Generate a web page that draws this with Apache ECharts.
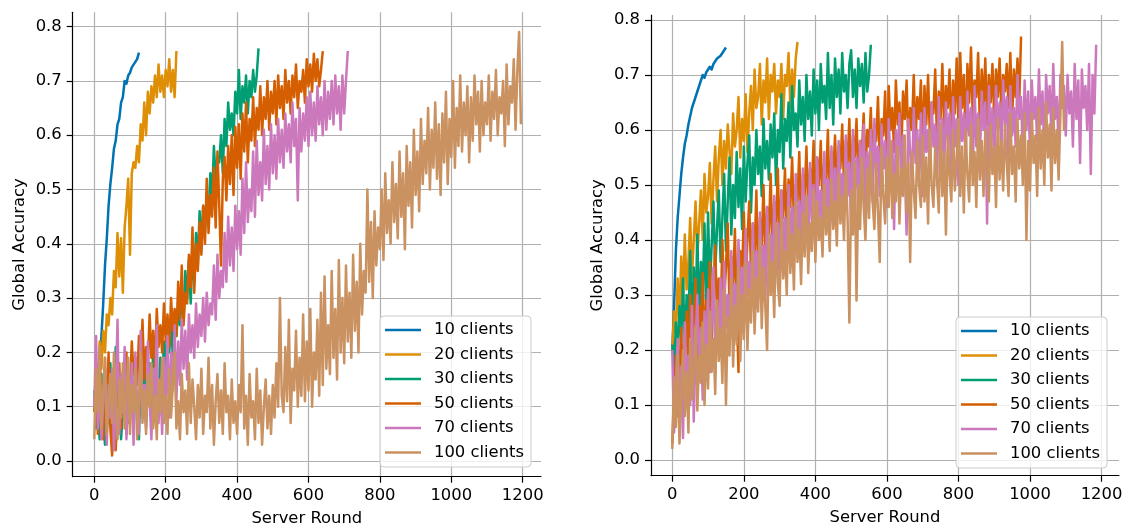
<!DOCTYPE html>
<html>
<head>
<meta charset="utf-8">
<script src="https://cdn.jsdelivr.net/npm/echarts@6/dist/echarts.min.js"></script>
<style>
  html, body { margin: 0; padding: 0; background: #fff; }
  #chart { width: 1123px; height: 524px; }
</style>
</head>
<body>
<div id="chart"></div>
<script>
// rounds between two stored readings
const STEP = 5;

const clientNames = ['10 clients', '20 clients', '30 clients', '50 clients', '70 clients', '100 clients'];
const palette = ['#0173b2', '#de8f05', '#029e73', '#d55e00', '#cc78bc', '#ca9161'];

const roundTickMax = 1200;
const roundTickStep = 200;
const accTickMax = 0.8;
const accTickStep = 0.1;

// ---- left panel (accuracy readings, one every STEP rounds) ----
const left10 = [0.10,0.12,0.15,0.17,0.23,0.29,0.36,0.41,0.47,0.51,0.54,0.575,0.59,0.62,0.63,0.66,0.67,0.70,0.695,0.71,0.715,0.725,0.73,0.728,0.74,0.752];
const left20 = [0.09,0.18,0.13,0.22,0.17,0.24,0.20,0.27,0.25,0.30,0.27,0.35,0.32,0.42,0.34,0.41,0.31,0.43,0.47,0.52,
  0.38,0.53,0.55,0.54,0.58,0.55,0.62,0.59,0.66,0.60,0.68,0.64,0.69,0.66,0.71,0.67,0.73,0.68,0.71,0.67,
  0.72,0.69,0.74,0.68,0.72,0.67,0.755];
const left30 = [0.13,0.06,0.11,0.04,0.16,0.08,0.03,0.12,0.07,0.18,0.05,0.10,0.21,0.06,0.13,0.04,0.09,0.17,0.05,0.12,
  0.08,0.19,0.06,0.14,0.10,0.04,0.16,0.09,0.20,0.07,0.13,0.18,0.10,0.21,0.12,0.17,0.09,0.19,0.14,0.22,
  0.17,0.24,0.20,0.26,0.19,0.27,0.23,0.28,0.25,0.31,0.26,0.35,0.30,0.37,0.29,0.38,0.33,0.42,0.36,0.46,
  0.39,0.47,0.42,0.49,0.44,0.53,0.48,0.58,0.52,0.56,0.55,0.60,0.53,0.63,0.58,0.66,0.61,0.64,0.60,0.68,
  0.64,0.72,0.63,0.69,0.66,0.71,0.64,0.70,0.67,0.72,0.68,0.71,0.76];
const left50 = [0.09,0.15,0.05,0.19,0.11,0.04,0.17,0.08,0.20,0.06,0.01,0.13,0.02,0.10,0.18,0.06,0.15,0.09,0.20,0.07,
  0.13,0.22,0.16,0.19,0.14,0.23,0.17,0.26,0.15,0.21,0.18,0.27,0.19,0.24,0.17,0.28,0.21,0.25,0.20,0.29,
  0.22,0.27,0.21,0.30,0.24,0.28,0.23,0.33,0.26,0.36,0.25,0.31,0.29,0.38,0.32,0.43,0.31,0.40,0.35,0.44,
  0.38,0.47,0.40,0.52,0.42,0.49,0.45,0.54,0.43,0.57,0.47,0.36,0.52,0.56,0.48,0.58,0.51,0.60,0.49,0.615,
  0.54,0.62,0.52,0.64,0.57,0.66,0.55,0.63,0.59,0.67,0.58,0.65,0.61,0.69,0.60,0.67,0.63,0.70,0.61,0.68,
  0.64,0.70,0.62,0.71,0.65,0.69,0.63,0.72,0.66,0.70,0.64,0.71,0.67,0.73,0.65,0.70,0.68,0.72,0.66,0.74,
  0.69,0.73,0.68,0.75,0.70,0.74,0.69,0.72,0.755];
const left70 = [0.10,0.23,0.06,0.15,0.04,0.11,0.19,0.03,0.14,0.08,0.17,0.02,0.12,0.26,0.05,0.16,0.09,0.21,0.04,0.13,
  0.07,0.18,0.03,0.20,0.10,0.05,0.24,0.08,0.14,0.06,0.22,0.11,0.04,0.17,0.09,0.25,0.07,0.15,0.05,0.19,
  0.10,0.23,0.08,0.20,0.13,0.25,0.11,0.22,0.14,0.26,0.17,0.24,0.15,0.27,0.20,0.25,0.19,0.29,0.21,0.27,
  0.23,0.30,0.22,0.31,0.25,0.29,0.27,0.36,0.26,0.38,0.30,0.35,0.32,0.42,0.33,0.45,0.36,0.43,0.35,0.47,
  0.39,0.46,0.38,0.52,0.42,0.55,0.44,0.50,0.46,0.57,0.45,0.59,0.49,0.55,0.48,0.61,0.51,0.58,0.50,0.62,
  0.53,0.60,0.52,0.63,0.55,0.61,0.54,0.64,0.57,0.62,0.55,0.66,0.58,0.63,0.48,0.65,0.57,0.64,0.59,0.67,
  0.58,0.68,0.60,0.66,0.59,0.69,0.62,0.67,0.60,0.70,0.61,0.68,0.63,0.70,0.62,0.71,0.64,0.69,0.61,0.71,
  0.64,0.70,0.755];
const left100 = [0.04,0.17,0.09,0.21,0.06,0.13,0.19,0.05,0.11,0.16,0.07,0.20,0.10,0.04,0.15,0.08,0.18,0.06,0.12,0.19,
  0.05,0.14,0.09,0.17,0.04,0.11,0.20,0.07,0.13,0.05,0.16,0.10,0.18,0.06,0.12,0.04,0.15,0.09,0.19,0.07,
  0.12,0.05,0.17,0.08,0.14,0.20,0.06,0.11,0.04,0.16,0.09,0.13,0.05,0.18,0.07,0.15,0.10,0.04,0.14,0.08,
  0.17,0.05,0.12,0.09,0.19,0.06,0.14,0.03,0.11,0.16,0.07,0.13,0.05,0.18,0.09,0.12,0.04,0.15,0.07,0.11,
  0.05,0.14,0.09,0.25,0.06,0.12,0.03,0.16,0.08,0.11,0.04,0.17,0.07,0.13,0.03,0.10,0.15,0.06,0.12,0.05,
  0.14,0.08,0.18,0.10,0.30,0.12,0.09,0.21,0.11,0.26,0.07,0.17,0.13,0.24,0.10,0.19,0.12,0.27,0.11,0.22,
  0.13,0.28,0.10,0.20,0.15,0.26,0.12,0.31,0.14,0.34,0.17,0.25,0.16,0.35,0.19,0.28,0.15,0.37,0.20,0.30,
  0.18,0.36,0.22,0.31,0.19,0.38,0.24,0.33,0.20,0.40,0.27,0.35,0.31,0.50,0.33,0.44,0.30,0.46,0.36,0.43,
  0.39,0.50,0.37,0.53,0.42,0.48,0.40,0.55,0.44,0.51,0.41,0.57,0.45,0.53,0.39,0.58,0.47,0.55,0.43,0.61,
  0.49,0.57,0.46,0.63,0.51,0.59,0.53,0.65,0.50,0.61,0.54,0.66,0.52,0.62,0.49,0.64,0.55,0.68,0.51,0.63,
  0.56,0.70,0.54,0.65,0.58,0.71,0.57,0.66,0.60,0.69,0.55,0.67,0.59,0.71,0.62,0.68,0.57,0.70,0.60,0.66,
  0.62,0.71,0.59,0.68,0.63,0.72,0.60,0.67,0.64,0.70,0.58,0.73,0.62,0.69,0.66,0.74,0.61,0.72,0.79,0.62];

// ---- right panel (accuracy readings, one every STEP rounds) ----
const right10 = [0.20,0.28,0.38,0.44,0.48,0.52,0.55,0.575,0.59,0.61,0.625,0.64,0.65,0.66,0.67,0.68,0.69,0.70,0.695,0.705,
  0.71,0.715,0.71,0.72,0.725,0.73,0.728,0.735,0.74,0.745,0.75];
const right20 = [0.20,0.27,0.23,0.33,0.25,0.37,0.29,0.41,0.31,0.36,0.44,0.33,0.40,0.47,0.37,0.43,0.49,0.40,0.52,0.45,
  0.48,0.54,0.43,0.51,0.57,0.47,0.55,0.60,0.50,0.58,0.53,0.61,0.56,0.52,0.63,0.57,0.60,0.66,0.55,0.62,
  0.58,0.665,0.56,0.63,0.68,0.60,0.71,0.64,0.66,0.72,0.61,0.69,0.65,0.73,0.62,0.70,0.67,0.72,0.63,0.69,
  0.66,0.72,0.62,0.70,0.68,0.74,0.64,0.71,0.66,0.73,0.76];
const right30 = [0.21,0.16,0.25,0.19,0.28,0.22,0.33,0.20,0.30,0.24,0.38,0.22,0.35,0.27,0.41,0.25,0.36,0.30,0.43,0.27,
  0.45,0.31,0.39,0.47,0.34,0.42,0.49,0.36,0.44,0.52,0.38,0.47,0.55,0.41,0.50,0.44,0.56,0.46,0.53,0.42,
  0.57,0.47,0.54,0.59,0.45,0.55,0.50,0.60,0.52,0.57,0.48,0.62,0.53,0.58,0.51,0.61,0.55,0.63,0.50,0.60,
  0.56,0.665,0.53,0.62,0.58,0.65,0.55,0.68,0.60,0.63,0.57,0.69,0.61,0.66,0.58,0.70,0.62,0.67,0.59,0.71,
  0.63,0.69,0.60,0.72,0.65,0.68,0.62,0.74,0.64,0.70,0.61,0.73,0.66,0.71,0.63,0.74,0.67,0.70,0.64,0.72,
  0.745,0.66,0.71,0.64,0.73,0.68,0.72,0.65,0.74,0.67,0.70,0.755];
const right50 = [0.03,0.12,0.19,0.08,0.16,0.24,0.11,0.20,0.27,0.15,0.30,0.19,0.25,0.33,0.18,0.28,0.22,0.34,0.20,0.29,
  0.24,0.36,0.22,0.31,0.39,0.26,0.33,0.25,0.40,0.29,0.35,0.43,0.27,0.37,0.31,0.42,0.28,0.16,0.38,0.33,
  0.45,0.31,0.40,0.47,0.34,0.43,0.37,0.49,0.33,0.44,0.39,0.50,0.36,0.46,0.41,0.52,0.38,0.47,0.42,0.53,
  0.39,0.49,0.44,0.53,0.41,0.51,0.46,0.55,0.43,0.50,0.47,0.56,0.42,0.52,0.48,0.57,0.45,0.53,0.49,0.58,
  0.44,0.55,0.50,0.58,0.47,0.54,0.51,0.60,0.46,0.56,0.52,0.59,0.49,0.57,0.53,0.61,0.50,0.58,0.54,0.62,
  0.49,0.59,0.55,0.62,0.51,0.58,0.56,0.63,0.52,0.60,0.57,0.64,0.53,0.61,0.58,0.66,0.54,0.62,0.59,0.67,
  0.53,0.68,0.60,0.64,0.56,0.69,0.61,0.65,0.55,0.67,0.62,0.69,0.57,0.64,0.60,0.70,0.58,0.66,0.62,0.69,
  0.56,0.68,0.61,0.70,0.59,0.65,0.63,0.71,0.58,0.67,0.62,0.72,0.60,0.68,0.64,0.71,0.59,0.69,0.63,0.73,
  0.61,0.74,0.64,0.70,0.59,0.72,0.65,0.75,0.62,0.69,0.66,0.74,0.60,0.71,0.64,0.73,0.61,0.70,0.65,0.72,
  0.62,0.71,0.66,0.73,0.63,0.70,0.67,0.72,0.64,0.74,0.62,0.71,0.66,0.73,0.65,0.77];
const right70 = [0.20,0.05,0.14,0.22,0.09,0.17,0.04,0.25,0.12,0.19,0.10,0.28,0.07,0.21,0.30,0.15,0.24,0.11,0.27,0.18,
  0.31,0.16,0.25,0.35,0.19,0.28,0.22,0.33,0.18,0.36,0.24,0.30,0.21,0.38,0.26,0.32,0.23,0.40,0.28,0.35,
  0.25,0.42,0.30,0.36,0.27,0.43,0.31,0.38,0.29,0.45,0.33,0.39,0.28,0.46,0.35,0.41,0.32,0.48,0.36,0.43,
  0.33,0.49,0.37,0.44,0.35,0.50,0.39,0.46,0.36,0.52,0.40,0.47,0.38,0.53,0.42,0.48,0.39,0.54,0.43,0.50,
  0.38,0.55,0.44,0.49,0.41,0.56,0.45,0.51,0.42,0.57,0.46,0.53,0.43,0.58,0.47,0.52,0.44,0.59,0.48,0.54,
  0.42,0.60,0.49,0.55,0.45,0.58,0.50,0.61,0.46,0.56,0.51,0.60,0.47,0.62,0.52,0.57,0.48,0.61,0.53,0.58,
  0.46,0.62,0.54,0.58,0.42,0.60,0.55,0.63,0.49,0.59,0.53,0.41,0.62,0.56,0.50,0.64,0.54,0.60,0.51,0.63,
  0.48,0.64,0.56,0.60,0.52,0.65,0.57,0.61,0.50,0.66,0.55,0.62,0.53,0.65,0.58,0.63,0.51,0.66,0.57,0.62,
  0.50,0.66,0.58,0.63,0.54,0.67,0.59,0.64,0.52,0.68,0.57,0.63,0.55,0.67,0.60,0.65,0.43,0.68,0.58,0.64,
  0.53,0.68,0.60,0.65,0.56,0.69,0.61,0.66,0.54,0.68,0.59,0.64,0.57,0.70,0.62,0.66,0.55,0.69,0.60,0.67,
  0.56,0.69,0.62,0.66,0.58,0.71,0.61,0.67,0.55,0.70,0.63,0.68,0.59,0.72,0.62,0.66,0.57,0.70,0.64,0.68,
  0.59,0.70,0.63,0.67,0.57,0.72,0.62,0.69,0.54,0.71,0.64,0.68,0.60,0.72,0.52,0.70,0.63,0.755];
const right100 = [0.02,0.15,0.06,0.19,0.03,0.12,0.20,0.08,0.16,0.05,0.22,0.11,0.17,0.24,0.09,0.19,0.14,0.25,0.10,0.21,
  0.13,0.27,0.16,0.22,0.12,0.29,0.18,0.24,0.14,0.31,0.10,0.26,0.19,0.33,0.17,0.28,0.21,0.35,0.18,0.30,
  0.22,0.36,0.20,0.31,0.25,0.38,0.23,0.33,0.27,0.40,0.24,0.35,0.28,0.20,0.41,0.30,0.36,0.26,0.43,0.32,
  0.28,0.44,0.33,0.38,0.30,0.46,0.34,0.41,0.31,0.47,0.36,0.42,0.32,0.45,0.37,0.48,0.34,0.43,0.38,0.49,
  0.36,0.47,0.40,0.44,0.37,0.50,0.41,0.46,0.38,0.51,0.42,0.47,0.39,0.52,0.43,0.48,0.40,0.53,0.44,0.25,
  0.49,0.41,0.54,0.29,0.50,0.42,0.55,0.46,0.40,0.53,0.44,0.56,0.47,0.42,0.54,0.45,0.36,0.57,0.48,0.43,
  0.55,0.46,0.58,0.44,0.52,0.47,0.57,0.43,0.53,0.48,0.59,0.45,0.54,0.36,0.56,0.49,0.44,0.58,0.50,0.46,
  0.59,0.47,0.55,0.43,0.60,0.50,0.46,0.57,0.51,0.45,0.61,0.48,0.56,0.41,0.59,0.52,0.47,0.60,0.49,0.55,
  0.62,0.48,0.57,0.45,0.60,0.52,0.47,0.61,0.50,0.56,0.46,0.62,0.51,0.58,0.48,0.60,0.53,0.47,0.61,0.52,
  0.57,0.46,0.62,0.51,0.58,0.49,0.61,0.54,0.48,0.63,0.52,0.57,0.47,0.62,0.53,0.59,0.50,0.63,0.40,0.58,
  0.49,0.63,0.54,0.59,0.48,0.64,0.53,0.60,0.50,0.65,0.55,0.61,0.49,0.64,0.54,0.60,0.51,0.63,0.76,0.60];

const FONT = 'DejaVu Sans';
const TXT = 16.4;
const INK = '#000000';
const GRID_GRAY = '#b0b0b0';

// pixel layout of each panel: plot box, where round 0 / accuracy 0 sit, px per unit
const panels = [
  { box: { left: 72.7, top: 12.3, width: 468.3, height: 464.4 }, x0: 94.3, xk: 0.357, y0: 461, yk: 543,
    legend: { left: 380, top: 316 },
    lines: [left10, left20, left30, left50, left70, left100] },
  { box: { left: 651, top: 15, width: 468, height: 460.7 }, x0: 672.3, xk: 0.3577, y0: 460, yk: 550,
    legend: { left: 956, top: 317 },
    lines: [right10, right20, right30, right50, right70, right100] }
];

const toPoints = (vals) => vals.map((v, i) => [i * STEP, v]);

const grid = [], xAxis = [], yAxis = [], series = [], legend = [];
const hidden = { show: false };

panels.forEach((p) => {
  const b = p.box;
  const base = grid.length;
  // data box, the box holding the x ticks, the box holding the y ticks
  // (outerBoundsMode none: keep the boxes exactly where they are put)
  grid.push({ left: b.left, top: b.top, width: b.width, height: b.height, outerBoundsMode: 'none' });
  grid.push({ left: p.x0, top: b.top, width: roundTickMax * p.xk, height: b.height, outerBoundsMode: 'none' });
  grid.push({ left: b.left, top: p.y0 - accTickMax * p.yk, width: b.width, height: accTickMax * p.yk, outerBoundsMode: 'none' });

  const spine = { show: true, onZero: false, lineStyle: { color: INK, width: 1.2 } };
  xAxis.push({
    gridIndex: base, type: 'value',
    min: (b.left - p.x0) / p.xk, max: (b.left + b.width - p.x0) / p.xk,
    axisLine: spine, axisTick: hidden, axisLabel: hidden, splitLine: hidden,
    name: 'Server Round', nameLocation: 'middle', nameGap: 34,
    nameTextStyle: { fontFamily: FONT, fontSize: TXT, color: INK }
  });
  yAxis.push({
    gridIndex: base, type: 'value',
    min: (b.top + b.height - p.y0) / -p.yk, max: (p.y0 - b.top) / p.yk,
    axisLine: spine, axisTick: hidden, axisLabel: hidden, splitLine: hidden,
    name: 'Global Accuracy', nameLocation: 'middle', nameGap: 45,
    nameTextStyle: { fontFamily: FONT, fontSize: TXT, color: INK }
  });

  xAxis.push({
    gridIndex: base + 1, type: 'value', min: 0, max: roundTickMax, interval: roundTickStep,
    axisLine: hidden,
    axisTick: { show: true, length: 6, lineStyle: { color: INK, width: 1.2 } },
    axisLabel: { show: true, margin: 11, fontFamily: FONT, fontSize: TXT, color: INK,
      formatter: (v) => String(v) },
    splitLine: { show: true, lineStyle: { color: GRID_GRAY, width: 1.2 } }
  });
  yAxis.push({ gridIndex: base + 1, type: 'value', min: 0, max: 1, show: false });

  xAxis.push({ gridIndex: base + 2, type: 'value', min: 0, max: 1, show: false });
  yAxis.push({
    gridIndex: base + 2, type: 'value', min: 0, max: accTickMax, interval: accTickStep,
    axisLine: hidden,
    axisTick: { show: true, length: 6, lineStyle: { color: INK, width: 1.2 } },
    axisLabel: { show: true, margin: 11, fontFamily: FONT, fontSize: TXT, color: INK,
      formatter: (v) => v.toFixed(1) },
    splitLine: { show: true, lineStyle: { color: GRID_GRAY, width: 1.2 } }
  });

  p.lines.forEach((vals, k) => {
    series.push({
      type: 'line', name: clientNames[k],
      xAxisIndex: base, yAxisIndex: base,
      data: toPoints(vals),
      showSymbol: false, symbol: 'none', silent: true,
      lineStyle: { color: palette[k], width: 2.5, join: 'round' },
      itemStyle: { color: palette[k] }
    });
  });

  legend.push({
    orient: 'vertical', left: p.legend.left, top: p.legend.top,
    data: clientNames, icon: 'rect', itemWidth: 36, itemHeight: 2.5, itemGap: 7.5,
    selectedMode: false,
    padding: [5.5, 7, 6, 5],
    backgroundColor: 'rgba(255,255,255,0.8)', borderColor: '#cccccc', borderWidth: 1, borderRadius: 4,
    textStyle: { fontFamily: FONT, fontSize: TXT, color: INK, lineHeight: 17, padding: [0, 0, 0, 8] }
  });
});

const chart = echarts.init(document.getElementById('chart'), null, { renderer: 'canvas' });
chart.setOption({
  animation: false,
  backgroundColor: '#ffffff',
  grid, xAxis, yAxis, series, legend
});
</script>
</body>
</html>
